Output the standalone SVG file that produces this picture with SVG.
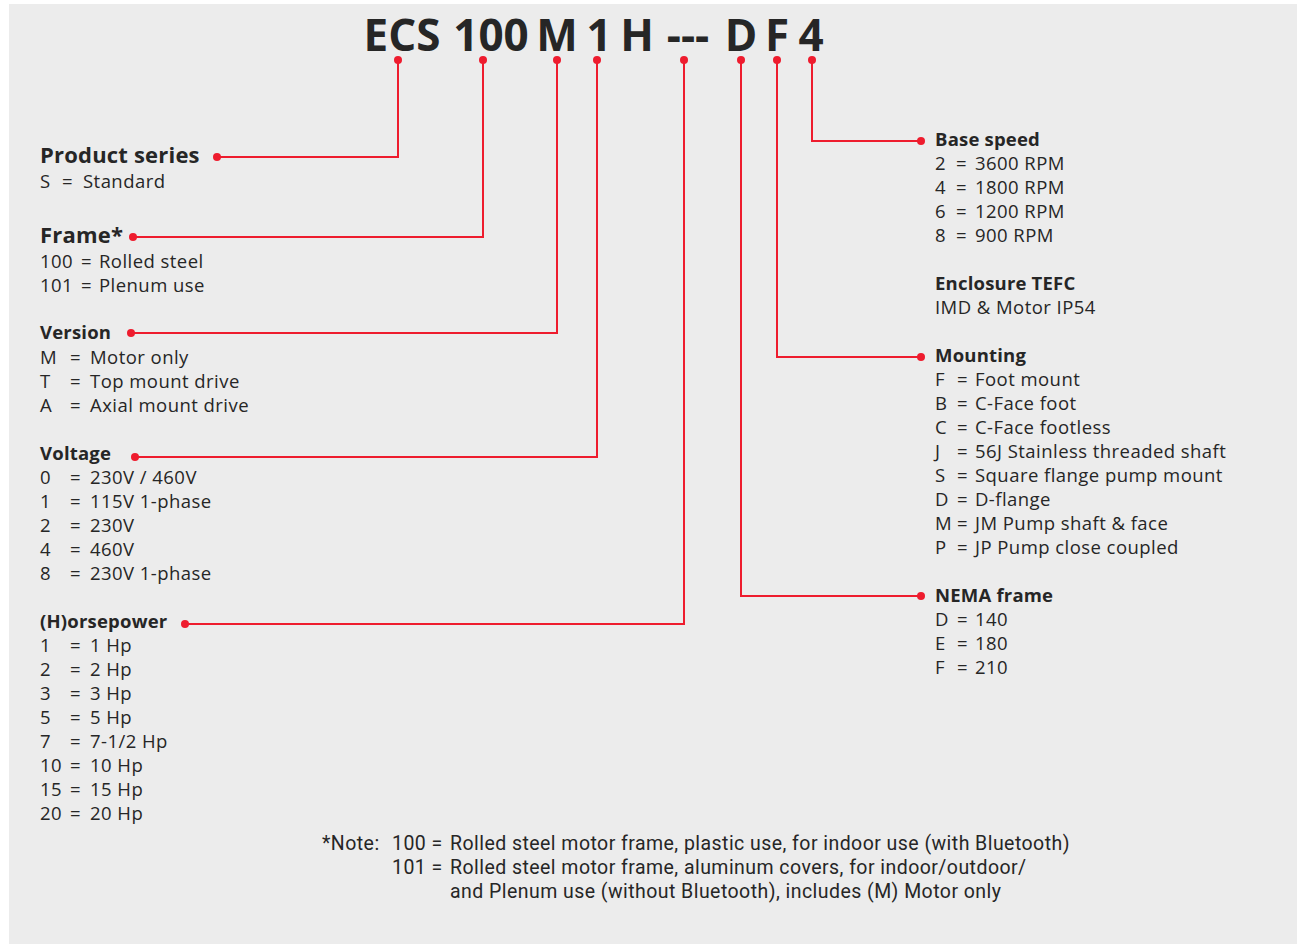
<svg xmlns="http://www.w3.org/2000/svg" width="1297" height="944" viewBox="0 0 1297 944">
<defs>
<style>
.bg{fill:#ececec}
.t{font-family:"Open Sans","Liberation Sans",sans-serif;font-size:18.5px;letter-spacing:0.45px;fill:#262626}
.h{font-family:"Open Sans","Liberation Sans",sans-serif;font-size:18.5px;letter-spacing:0.2px;font-weight:700;fill:#262626}
.hl{font-family:"Open Sans","Liberation Sans",sans-serif;font-size:22px;letter-spacing:0.2px;font-weight:700;fill:#262626}
.title{font-family:"Open Sans","Liberation Sans",sans-serif;font-size:44px;font-weight:700;fill:#262626}
.n{font-family:"Roboto","Liberation Sans",sans-serif;font-size:19.5px;letter-spacing:0.45px;fill:#262626}
.c{fill:none;stroke:#ee1c2e;stroke-width:2}
.d{fill:#ee1c2e}
</style>
</defs>
<rect class="bg" x="9" y="4" width="1288" height="940"/>
<g id="title">
<text class="title" y="51" text-anchor="middle"><tspan x="402">ECS</tspan><tspan x="491">100</tspan><tspan x="557">M</tspan><tspan x="599">1</tspan><tspan x="637">H</tspan><tspan x="688">---</tspan><tspan x="741">D</tspan><tspan x="777">F</tspan><tspan x="811">4</tspan></text>
</g>
<g id="connectors">
<polyline class="c" points="398,60 398,157 217,157"/>
<polyline class="c" points="483,60 483,237 133,237"/>
<polyline class="c" points="557,60 557,333 131,333"/>
<polyline class="c" points="597,60 597,457 135,457"/>
<polyline class="c" points="684,60 684,624 185,624"/>
<polyline class="c" points="741,60 741,596 921,596"/>
<polyline class="c" points="777,60 777,357 921,357"/>
<polyline class="c" points="812,60 812,141 921,141"/>
<circle class="d" cx="398" cy="60" r="4"/><circle class="d" cx="217" cy="157" r="4"/>
<circle class="d" cx="483" cy="60" r="4"/><circle class="d" cx="133" cy="237" r="4"/>
<circle class="d" cx="557" cy="60" r="4"/><circle class="d" cx="131" cy="333" r="4"/>
<circle class="d" cx="597" cy="60" r="4"/><circle class="d" cx="135" cy="457" r="4"/>
<circle class="d" cx="684" cy="60" r="4"/><circle class="d" cx="185" cy="624" r="4"/>
<circle class="d" cx="741" cy="60" r="4"/><circle class="d" cx="921" cy="596" r="4"/>
<circle class="d" cx="777" cy="60" r="4"/><circle class="d" cx="921" cy="357" r="4"/>
<circle class="d" cx="812" cy="60" r="4"/><circle class="d" cx="921" cy="141" r="4"/>
</g>
<g id="product-series">
<text class="hl" x="40" y="163">Product series</text>
<text class="t" x="40" y="188">S</text><text class="t" x="62" y="188">=</text><text class="t" x="83" y="188">Standard</text>
</g>
<g id="frame">
<text class="hl" x="40" y="243">Frame*</text>
<text class="t" x="40" y="268">100</text><text class="t" x="81" y="268">=</text><text class="t" x="99" y="268">Rolled steel</text>
<text class="t" x="40" y="292">101</text><text class="t" x="81" y="292">=</text><text class="t" x="99" y="292">Plenum use</text>
</g>
<g id="version">
<text class="h" x="40" y="339">Version</text>
<text class="t" x="40" y="364">M</text><text class="t" x="70" y="364">=</text><text class="t" x="90" y="364">Motor only</text>
<text class="t" x="40" y="388">T</text><text class="t" x="70" y="388">=</text><text class="t" x="90" y="388">Top mount drive</text>
<text class="t" x="40" y="412">A</text><text class="t" x="70" y="412">=</text><text class="t" x="90" y="412">Axial mount drive</text>
</g>
<g id="voltage">
<text class="h" x="40" y="460">Voltage</text>
<text class="t" x="40" y="484">0</text><text class="t" x="70" y="484">=</text><text class="t" x="90" y="484">230V / 460V</text>
<text class="t" x="40" y="508">1</text><text class="t" x="70" y="508">=</text><text class="t" x="90" y="508">115V 1-phase</text>
<text class="t" x="40" y="532">2</text><text class="t" x="70" y="532">=</text><text class="t" x="90" y="532">230V</text>
<text class="t" x="40" y="556">4</text><text class="t" x="70" y="556">=</text><text class="t" x="90" y="556">460V</text>
<text class="t" x="40" y="580">8</text><text class="t" x="70" y="580">=</text><text class="t" x="90" y="580">230V 1-phase</text>
</g>
<g id="horsepower">
<text class="h" x="40" y="628">(H)orsepower</text>
<text class="t" x="40" y="652">1</text><text class="t" x="70" y="652">=</text><text class="t" x="90" y="652">1 Hp</text>
<text class="t" x="40" y="676">2</text><text class="t" x="70" y="676">=</text><text class="t" x="90" y="676">2 Hp</text>
<text class="t" x="40" y="700">3</text><text class="t" x="70" y="700">=</text><text class="t" x="90" y="700">3 Hp</text>
<text class="t" x="40" y="724">5</text><text class="t" x="70" y="724">=</text><text class="t" x="90" y="724">5 Hp</text>
<text class="t" x="40" y="748">7</text><text class="t" x="70" y="748">=</text><text class="t" x="90" y="748">7-1/2 Hp</text>
<text class="t" x="40" y="772">10</text><text class="t" x="70" y="772">=</text><text class="t" x="90" y="772">10 Hp</text>
<text class="t" x="40" y="796">15</text><text class="t" x="70" y="796">=</text><text class="t" x="90" y="796">15 Hp</text>
<text class="t" x="40" y="820">20</text><text class="t" x="70" y="820">=</text><text class="t" x="90" y="820">20 Hp</text>
</g>
<g id="base-speed">
<text class="h" x="935" y="146">Base speed</text>
<text class="t" x="935" y="170">2</text><text class="t" x="956" y="170">=</text><text class="t" x="975" y="170">3600 RPM</text>
<text class="t" x="935" y="194">4</text><text class="t" x="956" y="194">=</text><text class="t" x="975" y="194">1800 RPM</text>
<text class="t" x="935" y="218">6</text><text class="t" x="956" y="218">=</text><text class="t" x="975" y="218">1200 RPM</text>
<text class="t" x="935" y="242">8</text><text class="t" x="956" y="242">=</text><text class="t" x="975" y="242">900 RPM</text>
</g>
<g id="enclosure">
<text class="h" x="935" y="290">Enclosure TEFC</text>
<text class="t" x="935" y="314">IMD &amp; Motor IP54</text>
</g>
<g id="mounting">
<text class="h" x="935" y="362">Mounting</text>
<text class="t" x="935" y="386">F</text><text class="t" x="957" y="386">=</text><text class="t" x="975" y="386">Foot mount</text>
<text class="t" x="935" y="410">B</text><text class="t" x="957" y="410">=</text><text class="t" x="975" y="410">C-Face foot</text>
<text class="t" x="935" y="434">C</text><text class="t" x="957" y="434">=</text><text class="t" x="975" y="434">C-Face footless</text>
<text class="t" x="935" y="458">J</text><text class="t" x="957" y="458">=</text><text class="t" x="975" y="458">56J Stainless threaded shaft</text>
<text class="t" x="935" y="482">S</text><text class="t" x="957" y="482">=</text><text class="t" x="975" y="482">Square flange pump mount</text>
<text class="t" x="935" y="506">D</text><text class="t" x="957" y="506">=</text><text class="t" x="975" y="506">D-flange</text>
<text class="t" x="935" y="530">M</text><text class="t" x="957" y="530">=</text><text class="t" x="975" y="530">JM Pump shaft &amp; face</text>
<text class="t" x="935" y="554">P</text><text class="t" x="957" y="554">=</text><text class="t" x="975" y="554">JP Pump close coupled</text>
</g>
<g id="nema-frame">
<text class="h" x="935" y="602">NEMA frame</text>
<text class="t" x="935" y="626">D</text><text class="t" x="957" y="626">=</text><text class="t" x="975" y="626">140</text>
<text class="t" x="935" y="650">E</text><text class="t" x="957" y="650">=</text><text class="t" x="975" y="650">180</text>
<text class="t" x="935" y="674">F</text><text class="t" x="957" y="674">=</text><text class="t" x="975" y="674">210</text>
</g>
<g id="note">
<text class="n" x="322" y="850">*Note:</text>
<text class="n" x="392" y="850">100 =</text>
<text class="n" x="450" y="850">Rolled steel motor frame, plastic use, for indoor use (with Bluetooth)</text>
<text class="n" x="392" y="874">101 =</text>
<text class="n" x="450" y="874">Rolled steel motor frame, aluminum covers, for indoor/outdoor/</text>
<text class="n" x="450" y="898">and Plenum use (without Bluetooth), includes (M) Motor only</text>
</g>
</svg>
